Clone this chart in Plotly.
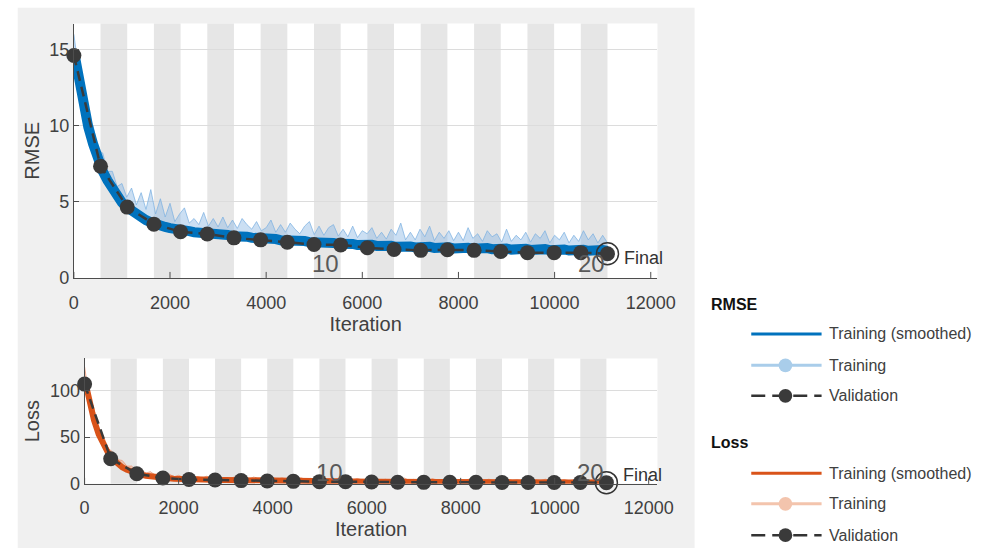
import plotly.graph_objects as go

W, H = 990, 558


def px(x):
    return x / W


def py(y):
    return 1 - y / H


# ---------------- data ----------------
iterations_per_epoch = 555
num_epochs = 20
train_iter = list(range(0, 11101, 100))
val_iter = [iterations_per_epoch * k for k in range(num_epochs + 1)]

rmse_smooth = [
    14.9, 12.9, 11.3, 9.9, 8.8, 7.8, 7.0, 6.4, 5.8, 5.35,
    4.95, 4.65, 4.4, 4.15, 3.95, 3.8, 3.65, 3.5, 3.45, 3.35,
    3.27, 3.18, 3.14, 3.08, 3.07, 3.0, 2.99, 2.93, 2.92, 2.88,
    2.87, 2.8, 2.82, 2.74, 2.76, 2.7, 2.71, 2.64, 2.65, 2.58,
    2.6, 2.53, 2.55, 2.48, 2.5, 2.43, 2.46, 2.4, 2.42, 2.35,
    2.37, 2.31, 2.34, 2.28, 2.3, 2.24, 2.27, 2.2, 2.23, 2.16,
    2.2, 2.13, 2.17, 2.1, 2.14, 2.06, 2.11, 2.04, 2.09, 2.02,
    2.07, 2.0, 2.06, 1.98, 2.04, 1.97, 2.02, 1.96, 2.01, 1.94,
    2.0, 1.93, 1.98, 1.91, 1.97, 1.9, 1.96, 1.89, 1.94, 1.87,
    1.93, 1.86, 1.92, 1.85, 1.91, 1.84, 1.9, 1.83, 1.89, 1.82,
    1.88, 1.81, 1.87, 1.8, 1.86, 1.79, 1.85, 1.78, 1.84, 1.77,
    1.83, 1.77,
]

rmse_train = [
    16.0, 13.6, 12.6, 10.5, 10.0, 8.4, 8.2, 7.0, 7.0, 6.0,
    6.2, 5.3, 5.9, 4.8, 5.6, 4.5, 5.8, 4.2, 5.2, 4.0,
    4.9, 3.7, 4.2, 4.6, 3.6, 3.9, 3.5, 4.3, 3.4, 3.9,
    3.35, 4.0, 3.3, 3.8, 3.25, 3.9, 3.5, 3.2, 3.7, 3.1,
    3.3, 3.8, 3.0, 3.5, 3.0, 3.6, 3.2, 2.9, 3.4, 3.7,
    2.85, 3.4, 2.8, 3.3, 3.5, 2.75, 3.2, 2.7, 3.4, 2.65,
    3.1, 2.9, 3.3, 2.6, 3.0, 2.55, 3.2, 2.8, 3.6, 2.5,
    3.0, 2.5, 3.2, 2.7, 3.4, 2.45, 3.0, 2.6, 3.1, 2.45,
    3.0, 2.45, 3.3, 2.6, 2.9, 2.4, 3.1, 2.7, 2.9, 2.35,
    3.2, 2.4, 2.8, 2.5, 3.0, 2.35, 2.9, 2.6, 3.1, 2.3,
    2.8, 2.5, 3.0, 2.3, 2.8, 2.4, 3.1, 2.5, 2.9, 2.3,
    2.8, 2.3,
]

rmse_val = [14.6, 7.33, 4.65, 3.53, 3.03, 2.88, 2.63, 2.5, 2.34, 2.19, 2.17,
            1.98, 1.87, 1.81, 1.85, 1.81, 1.74, 1.66, 1.66, 1.66, 1.59]

loss_smooth = [
    112, 88, 68, 53, 42, 33, 26.5, 21.5, 17.8, 15.0,
    12.8, 11.0, 9.8, 8.7, 7.9, 7.2, 6.7, 6.2, 5.9, 5.6,
    5.3, 5.1, 4.9, 4.8, 4.6, 4.5, 4.4, 4.3, 4.2, 4.15,
    4.1, 4.0, 3.9, 3.8, 3.75, 3.7, 3.6, 3.5, 3.45, 3.4,
    3.3, 3.25, 3.2, 3.15, 3.1, 3.0, 2.95, 2.9, 2.85, 2.8,
    2.75, 2.7, 2.7, 2.65, 2.6, 2.55, 2.5, 2.45, 2.4, 2.4,
    2.35, 2.3, 2.3, 2.25, 2.2, 2.2, 2.15, 2.1, 2.1, 2.1,
    2.05, 2.05, 2.0, 2.0, 2.0, 1.95, 1.95, 1.95, 1.9, 1.9,
    1.9, 1.85, 1.85, 1.85, 1.8, 1.8, 1.8, 1.8, 1.75, 1.75,
    1.75, 1.7, 1.7, 1.7, 1.7, 1.65, 1.65, 1.65, 1.65, 1.6,
    1.6, 1.6, 1.6, 1.6, 1.55, 1.55, 1.55, 1.55, 1.55, 1.5,
    1.5, 1.5,
]

loss_train = [
    125, 92, 80, 58, 51, 38, 34, 26, 25, 19,
    19, 14, 15.5, 11.5, 13, 9.5, 12, 8.2, 10.5, 7.6,
    9.2, 7.0, 8.5, 6.6, 7.8, 6.2, 8.2, 6.0, 7.2, 5.9,
    6.4, 5.8, 7.6, 5.6, 6.9, 5.5, 7.3, 5.3, 6.6, 5.2,
    6.9, 5.0, 6.4, 4.9, 6.2, 4.8, 6.6, 4.7, 5.9, 4.6,
    6.3, 4.5, 5.7, 4.45, 6.0, 4.4, 5.3, 4.3, 5.8, 4.2,
    5.1, 4.15, 5.6, 4.1, 4.9, 4.0, 5.4, 3.95, 6.2, 3.95,
    4.8, 3.9, 5.3, 3.85, 5.7, 3.8, 4.7, 3.8, 5.1, 3.75,
    4.6, 3.7, 5.4, 3.7, 4.5, 3.65, 5.0, 3.65, 4.4, 3.6,
    5.2, 3.6, 4.3, 3.55, 4.8, 3.55, 4.4, 3.5, 5.0, 3.5,
    4.2, 3.45, 4.8, 3.45, 4.2, 3.4, 5.0, 3.4, 4.4, 3.4,
    4.2, 3.35,
]

loss_val = [106.6, 26.9, 10.8, 6.2, 4.6, 4.1, 3.5, 3.1, 2.7, 2.4, 2.4,
            2.0, 1.7, 1.6, 1.7, 1.6, 1.5, 1.4, 1.4, 1.4, 1.3]

x_ticks = [0, 2000, 4000, 6000, 8000, 10000, 12000]
x_tick_text = ["0", "2000", "4000", "6000", "8000", "10000", "12000"]
rmse_ticks = [0, 5, 10, 15]
loss_ticks = [0, 50, 100]
epoch_labels = {10: "10", 20: "20"}

legend_groups = ["RMSE", "Loss"]
legend_items = ["Training (smoothed)", "Training", "Validation"]

# ---------------- styles ----------------
FONT = "Liberation Sans, Arial, Helvetica, sans-serif"
BLUE = "#0072BD"
BLUE_LINE = "rgba(125,178,225,0.75)"
BLUE_FILL = "rgba(140,185,228,0.45)"
BLUE_LEG = "#a9cdea"
ORANGE = "#D95319"
ORANGE_LINE = "rgba(235,150,115,0.75)"
ORANGE_FILL = "rgba(240,160,125,0.45)"
ORANGE_LEG = "#f3c4ad"
VAL = "#3a3a3a"
AX = "#4d4d4d"
TXT = "#404040"

fig = go.Figure()


def add_panel(xa, ya, smooth, train, val, c_dark, c_line, c_fill, lw):
    fig.add_trace(go.Scatter(x=train_iter, y=smooth, mode="lines", line=dict(width=0, color=c_fill),
                             hoverinfo="skip", showlegend=False, xaxis=xa, yaxis=ya))
    fig.add_trace(go.Scatter(x=train_iter, y=train, mode="lines", fill="tonexty", fillcolor=c_fill,
                             line=dict(width=1, color=c_line), showlegend=False, xaxis=xa, yaxis=ya))
    fig.add_trace(go.Scatter(x=train_iter, y=smooth, mode="lines", line=dict(width=lw, color=c_dark),
                             showlegend=False, xaxis=xa, yaxis=ya))
    fig.add_trace(go.Scatter(x=val_iter, y=val, mode="lines+markers",
                             line=dict(width=2.5, color=VAL, dash="10px,6px"),
                             marker=dict(size=15, color=VAL), cliponaxis=False,
                             showlegend=False, xaxis=xa, yaxis=ya))
    fig.add_trace(go.Scatter(x=[val_iter[-1]], y=[val[-1]], mode="markers",
                             marker=dict(symbol="circle-open", size=22, color="#333333",
                                         line=dict(width=1.5, color="#333333")),
                             cliponaxis=False, showlegend=False, xaxis=xa, yaxis=ya))


add_panel("x", "y", rmse_smooth, rmse_train, rmse_val, BLUE, BLUE_LINE, BLUE_FILL, 10)
add_panel("x2", "y2", loss_smooth, loss_train, loss_val, ORANGE, ORANGE_LINE, ORANGE_FILL, 6)

shapes = []
# gray figure panel
shapes.append(dict(type="rect", xref="paper", yref="paper", x0=px(13), x1=px(706), y0=0, y1=py(8),
                   fillcolor="#f0f0f0", line=dict(width=0), layer="below"))
# white plot areas
shapes.append(dict(type="rect", xref="paper", yref="paper", x0=px(70.5), x1=px(668), y0=py(283), y1=py(24),
                   fillcolor="white", line=dict(width=0), layer="below"))
shapes.append(dict(type="rect", xref="paper", yref="paper", x0=px(81.5), x1=px(668), y0=py(492.7), y1=py(365),
                   fillcolor="white", line=dict(width=0), layer="below"))
# epoch bands
for xr, yr in (("x", "y domain"), ("x2", "y2 domain")):
    for k in range(2, num_epochs + 1, 2):
        shapes.append(dict(type="rect", xref=xr, yref=yr, x0=(k - 1) * iterations_per_epoch,
                           x1=k * iterations_per_epoch, y0=0, y1=1, fillcolor="#e6e6e6",
                           line=dict(width=0), layer="below"))
    # inward x tick marks
    for t in x_ticks:
        shapes.append(dict(type="line", xref=xr, yref=yr, x0=t, x1=t, ysizemode="pixel", yanchor=0,
                           y0=0, y1=6, line=dict(color=AX, width=1)))

annotations = []
# epoch labels
for xr, yc in (("x", 268), ("x2", 481)):
    for ep, lab in epoch_labels.items():
        annotations.append(dict(text=lab, x=ep * iterations_per_epoch, xref=xr, y=py(yc), yref="paper",
                                xanchor="right", yanchor="middle", showarrow=False,
                                font=dict(family=FONT, size=24, color="#595959")))
# Final labels
for xr, yc in (("x", 263), ("x2", 484)):
    annotations.append(dict(text="Final", x=val_iter[-1], xref=xr, y=py(yc), yref="paper",
                            xanchor="left", yanchor="middle", xshift=15, showarrow=False,
                            font=dict(family=FONT, size=18, color="#333333")))

# legend
leg_rows = {"RMSE": (310, [340, 372, 403]), "Loss": (451, [482, 513, 545])}
leg_cols = {"RMSE": (BLUE, BLUE_LEG), "Loss": (ORANGE, ORANGE_LEG)}
for g in legend_groups:
    ty, rows = leg_rows[g]
    dark, light = leg_cols[g]
    annotations.append(dict(text="<b>%s</b>" % g, x=px(721), y=py(ty), xref="paper", yref="paper",
                            xanchor="left", yanchor="middle", showarrow=False,
                            font=dict(family=FONT, size=16, color="#111111")))
    for name, yc in zip(legend_items, rows):
        annotations.append(dict(text=name, x=px(842), y=py(yc), xref="paper", yref="paper",
                                xanchor="left", yanchor="middle", showarrow=False,
                                font=dict(family=FONT, size=16, color=TXT)))
        if name == "Training (smoothed)":
            shapes.append(dict(type="line", xref="paper", yref="paper", x0=px(764), x1=px(836),
                               y0=py(yc), y1=py(yc), line=dict(color=dark, width=3)))
        elif name == "Training":
            shapes.append(dict(type="line", xref="paper", yref="paper", x0=px(764), x1=px(836),
                               y0=py(yc), y1=py(yc), line=dict(color=light, width=3)))
            shapes.append(dict(type="circle", xref="paper", yref="paper", x0=px(792), x1=px(806),
                               y0=py(yc + 7), y1=py(yc - 7), fillcolor=light, line=dict(width=0)))
        else:
            shapes.append(dict(type="line", xref="paper", yref="paper", x0=px(764), x1=px(836),
                               y0=py(yc), y1=py(yc), line=dict(color="#333333", width=2.5, dash="14px,7px")))
            shapes.append(dict(type="circle", xref="paper", yref="paper", x0=px(792), x1=px(806),
                               y0=py(yc + 7), y1=py(yc - 7), fillcolor=VAL, line=dict(width=0)))


def xax(domain, rng, anchor):
    return dict(domain=domain, range=rng, anchor=anchor, tickvals=x_ticks, ticktext=x_tick_text,
                ticks="outside", ticklen=8, tickcolor="rgba(0,0,0,0)",
                showline=True, linecolor=AX, linewidth=1, showgrid=False, zeroline=False,
                tickfont=dict(family=FONT, size=18, color=TXT),
                title=dict(text="Iteration", font=dict(family=FONT, size=20, color=TXT), standoff=3))


def yax(domain, rng, anchor, ticks, title):
    return dict(domain=domain, range=rng, anchor=anchor, tickvals=ticks, ticks="inside", ticklen=5,
                tickcolor=AX, showline=True, linecolor=AX, linewidth=1, showgrid=True,
                gridcolor="#dcdcdc", gridwidth=1, zeroline=False,
                tickfont=dict(family=FONT, size=18, color=TXT),
                title=dict(text=title, font=dict(family=FONT, size=20, color=TXT), standoff=4))


fig.update_layout(
    width=W, height=H, autosize=False,
    margin=dict(l=0, r=0, t=0, b=0),
    paper_bgcolor="white", plot_bgcolor="white",
    showlegend=False,
    font=dict(family=FONT, color=TXT),
    xaxis=xax([px(70.5), px(668)], [0, 12140], "y"),
    yaxis=yax([py(283), py(24)], [0, 16.7], "x", rmse_ticks, "RMSE"),
    xaxis2=xax([px(81.5), px(668)], [0, 12187], "y2"),
    yaxis2=yax([py(492.7), py(365)], [0, 134], "x2", loss_ticks, "Loss"),
    shapes=shapes,
    annotations=annotations,
)

page_fix = ("document.documentElement.style.margin='0';document.documentElement.style.overflow='hidden';"
            "document.body.style.margin='0';document.body.style.padding='0';document.body.style.overflow='hidden';")
fig.write_html("out.html", config={"displayModeBar": False}, post_script=page_fix)
